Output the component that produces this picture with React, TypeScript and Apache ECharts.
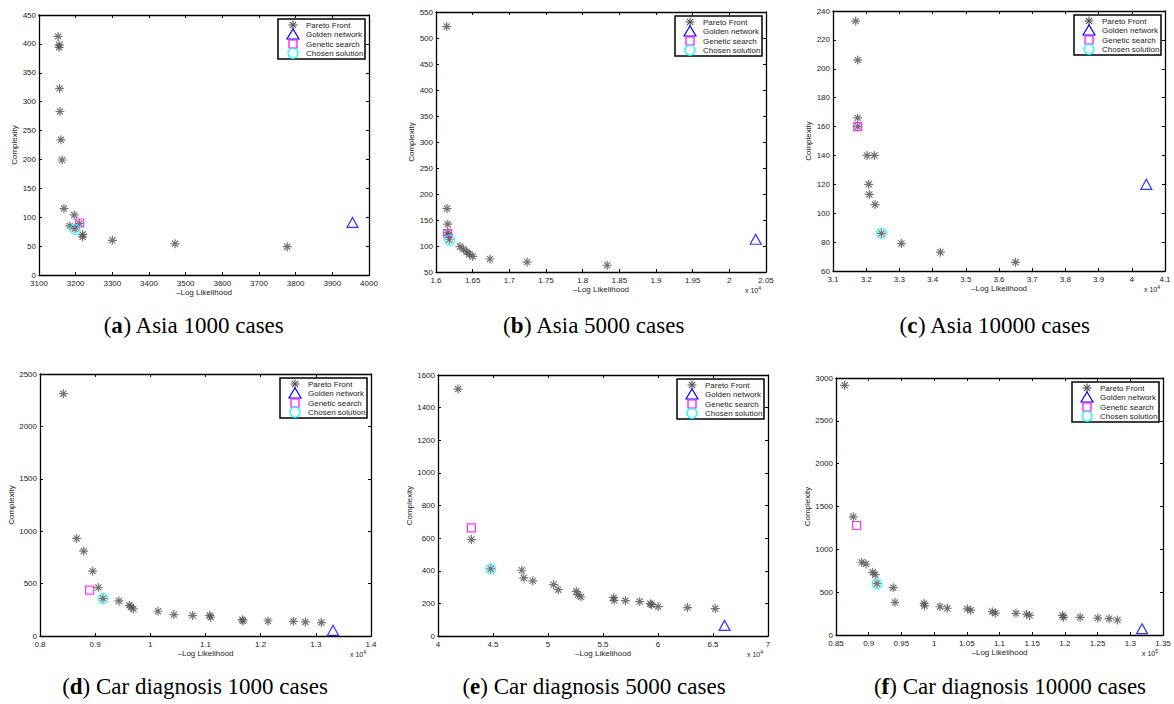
import React, { useEffect, useRef } from "react";
import * as echarts from "echarts";

// ---------- data ----------
const asia1000Pareto = [[3152,413],[3155,398],[3155,394],[3156,323],[3157,283],[3160,234],[3163,199],[3168,115],[3196,104],[3184,85],[3198,80],[3210,89],[3219,70],[3219,66],[3300,60],[3471,54],[3777,49]];
const asia1000Golden = [[3955,91]];
const asia1000Genetic = [[3211,90]];
const asia1000Chosen = [[3198,79]];

const asia5000Pareto = [[16146,522],[16150,172],[16160,142],[16160,125],[16170,121],[16181,112],[16327,99],[16373,94],[16418,89],[16455,84],[16500,80],[16736,75],[17242,69],[18334,63]];
const asia5000Golden = [[20359,113]];
const asia5000Genetic = [[16160,124]];
const asia5000Chosen = [[16186,111]];

const asia10000Pareto = [[31683,233],[31744,206],[31744,166],[31744,160],[32025,140],[32246,140],[32075,120],[32095,113],[32266,106],[32457,86],[33060,79],[34236,73],[36497,66]];
const asia10000Golden = [[40437,120]];
const asia10000Genetic = [[31744,160]];
const asia10000Chosen = [[32457,86]];

const car1000Pareto = [[8423,2312],[8665,931],[8792,810],[8955,619],[9057,462],[9142,357],[9432,335],[9619,293],[9650,277],[9692,258],[10139,236],[10429,204],[10767,195],[11076,195],[11094,179],[11668,156],[11680,143],[12133,143],[12592,140],[12810,134],[13100,128]];
const car1000Golden = [[13311,54]];
const car1000Genetic = [[8900,437]];
const car1000Chosen = [[9142,357]];

const car5000Pareto = [[41820,1514],[43040,591],[44800,411],[47620,403],[47800,356],[48620,338],[50510,315],[50930,284],[52570,274],[52720,254],[53000,239],[55970,235],[56000,219],[57040,217],[58340,211],[59300,198],[59420,192],[60010,180],[62680,174],[65200,168]];
const car5000Golden = [[66050,65]];
const car5000Genetic = [[43040,663]];
const car5000Chosen = [[44800,411]];

const car10000Pareto = [[86320,2915],[87640,1380],[88930,849],[89590,829],[90610,732],[91010,704],[91270,599],[93760,552],[94020,381],[98480,369],[98530,342],[100900,330],[102020,312],[105080,305],[105600,290],[108900,272],[109360,256],[112520,253],[114150,241],[114600,229],[119640,229],[119790,206],[122330,206],[125030,198],[126760,190],[128030,175]];
const car10000Golden = [[131800,74]];
const car10000Genetic = [[88150,1278]];
const car10000Chosen = [[91270,597]];

const seriesNames = ["Pareto Front", "Golden network", "Genetic search", "Chosen solution"];
const captionLetters = ["a", "b", "c", "d", "e", "f"];
const captionTexts = ["Asia 1000 cases", "Asia 5000 cases", "Asia 10000 cases", "Car diagnosis 1000 cases", "Car diagnosis 5000 cases", "Car diagnosis 10000 cases"];
const xAxisName = "\u2013Log Likelihood";
const yAxisName = "Complexity";

const panelData = [
  [asia1000Pareto, asia1000Golden, asia1000Genetic, asia1000Chosen],
  [asia5000Pareto, asia5000Golden, asia5000Genetic, asia5000Chosen],
  [asia10000Pareto, asia10000Golden, asia10000Genetic, asia10000Chosen],
  [car1000Pareto, car1000Golden, car1000Genetic, car1000Chosen],
  [car5000Pareto, car5000Golden, car5000Genetic, car5000Chosen],
  [car10000Pareto, car10000Golden, car10000Genetic, car10000Chosen],
];

// axis ranges
const xRanges = [[3100, 4000, 100], [16000, 20500, 500], [31000, 41000, 1000], [8000, 14000, 1000], [40000, 70000, 5000], [85000, 135000, 5000]];
const yRanges = [[0, 450, 50], [50, 550, 50], [60, 240, 20], [0, 2500, 500], [0, 1600, 200], [0, 3000, 500]];
const xExponents = [0, 4, 4, 4, 4, 5];

// ---------- layout (positions / styles) ----------
const grids = [
  { left: 39, top: 15, width: 330, height: 260 },
  { left: 436, top: 12, width: 330, height: 260 },
  { left: 833, top: 11, width: 332, height: 260 },
  { left: 40, top: 374, width: 331, height: 262 },
  { left: 438, top: 375, width: 330, height: 261 },
  { left: 836, top: 378, width: 327, height: 257 },
];
const yNameGaps = [17, 17, 17, 21, 21, 21];
const captionPos = [[194, 325], [594, 325], [995, 325], [195, 686], [594, 686], [1010, 686]];

const SANS = "'Liberation Sans', Arial, Helvetica, sans-serif";
const SERIF = "'Liberation Serif', 'DejaVu Serif', serif";
const STAR = "path://M5,0L5,10M0,5L10,5M1.6,1.6L8.4,8.4M1.6,8.4L8.4,1.6";
const STAR_COLOR = "#505050";
const COLORS = [STAR_COLOR, "#0000ff", "#ff00ff", "#00ffff"];

const markerStyles = [
  { symbol: STAR, symbolSize: 9, itemStyle: { color: "none", borderColor: COLORS[0], borderWidth: 1.2 } },
  { symbol: "triangle", symbolSize: [11, 10], itemStyle: { color: "none", borderColor: COLORS[1], borderWidth: 1.2 } },
  { symbol: "rect", symbolSize: 8, itemStyle: { color: "none", borderColor: COLORS[2], borderWidth: 1.2 } },
  { symbol: "circle", symbolSize: 10, itemStyle: { color: "none", borderColor: COLORS[3], borderWidth: 1.2 } },
];

function fmt(exp: number) {
  return (v: number) => {
    const s = v / Math.pow(10, exp);
    return String(parseFloat(s.toFixed(4)));
  };
}

// legend box drawn as graphic (MATLAB-style compact legend)
function legendGroup(left: number, top: number) {
  const W = 87, H = 40, cx = 15, tx = 28;
  const rows = [6, 15.5, 25, 34.3];
  const z = 100;
  const children: any[] = [
    { type: "rect", z, shape: { x: 0, y: 0, width: W, height: H }, style: { fill: "#fff", stroke: "#000", lineWidth: 1.5 } },
  ];
  // star
  const r0 = rows[0], s = 4.5, d = 3.2;
  const starLines = [
    [cx - s, r0, cx + s, r0], [cx, r0 - s, cx, r0 + s],
    [cx - d, r0 - d, cx + d, r0 + d], [cx - d, r0 + d, cx + d, r0 - d],
  ];
  starLines.forEach(([x1, y1, x2, y2]) => {
    children.push({ type: "line", z: z + 1, shape: { x1, y1, x2, y2 }, style: { stroke: COLORS[0], lineWidth: 1.1 } });
  });
  const r1 = rows[1];
  children.push({ type: "polygon", z: z + 1, shape: { points: [[cx - 6, r1 + 4.5], [cx + 6, r1 + 4.5], [cx, r1 - 5.5]] }, style: { fill: "none", stroke: COLORS[1], lineWidth: 1.2 } });
  const r2 = rows[2];
  children.push({ type: "rect", z: z + 1, shape: { x: cx - 4, y: r2 - 4, width: 8, height: 8 }, style: { fill: "none", stroke: COLORS[2], lineWidth: 1.2 } });
  const r3 = rows[3];
  children.push({ type: "circle", z: z + 1, shape: { cx, cy: r3, r: 5 }, style: { fill: "none", stroke: COLORS[3], lineWidth: 1.2 } });
  seriesNames.forEach((name, k) => {
    children.push({
      type: "text", z: z + 1, x: tx, y: rows[k],
      style: { text: name, fontSize: 8, fontFamily: SANS, fill: "#222", verticalAlign: "middle", align: "left" },
    });
  });
  return { type: "group", x: left, y: top, children };
}

function buildOption() {
  const grid: any[] = [];
  const xAxis: any[] = [];
  const yAxis: any[] = [];
  const series: any[] = [];
  const graphic: any[] = [];

  grids.forEach((g, i) => {
    grid.push({ ...g, containLabel: false, show: false });
    const [xMin, xMax, xInt] = xRanges[i];
    const [yMin, yMax, yInt] = yRanges[i];
    const axisLine = { show: true, onZero: false, lineStyle: { color: "#000", width: 1.3 } };
    const axisTick = { show: true, inside: true, length: 3, lineStyle: { color: "#000", width: 1 } };
    xAxis.push({
      gridIndex: i, type: "value", position: "bottom", min: xMin, max: xMax, interval: xInt,
      axisLine, axisTick, splitLine: { show: false },
      axisLabel: { fontSize: 8, fontFamily: SANS, color: "#222", margin: 4, formatter: fmt(xExponents[i]), showMinLabel: true, showMaxLabel: true },
      name: xAxisName, nameLocation: "middle", nameGap: 13,
      nameTextStyle: { fontSize: 8, fontFamily: SANS, color: "#222" },
    });
    xAxis.push({
      gridIndex: i, type: "value", position: "top", min: xMin, max: xMax, interval: xInt,
      axisLine, axisTick, splitLine: { show: false }, axisLabel: { show: false },
    });
    yAxis.push({
      gridIndex: i, type: "value", position: "left", min: yMin, max: yMax, interval: yInt,
      axisLine, axisTick, splitLine: { show: false },
      axisLabel: { fontSize: 8, fontFamily: SANS, color: "#222", margin: 3, formatter: (v: number) => String(v), showMinLabel: true, showMaxLabel: true },
      name: yAxisName, nameLocation: "middle", nameGap: yNameGaps[i], nameRotate: 90,
      nameTextStyle: { fontSize: 8, fontFamily: SANS, color: "#222" },
    });
    yAxis.push({
      gridIndex: i, type: "value", position: "right", min: yMin, max: yMax, interval: yInt,
      axisLine, axisTick, splitLine: { show: false }, axisLabel: { show: false },
    });

    panelData[i].forEach((d, k) => {
      series.push({
        type: "scatter", name: seriesNames[k], xAxisIndex: 2 * i, yAxisIndex: 2 * i,
        data: d, ...markerStyles[k], z: 2 + k,
      });
    });

    graphic.push(legendGroup(g.left + g.width - 91, g.top + 4));

    if (xExponents[i] > 0) {
      graphic.push({
        type: "text",
        left: g.left + g.width - 21,
        top: g.top + g.height + 13,
        style: {
          text: "x 10{sup|" + xExponents[i] + "}",
          fontSize: 7, fontFamily: SANS, fill: "#222",
          rich: { sup: { fontSize: 5, fontFamily: SANS, fill: "#222", padding: [0, 0, 5, 0] } },
        },
      });
    }

    graphic.push({
      type: "text",
      x: captionPos[i][0],
      y: captionPos[i][1],
      style: {
        text: "({b|" + captionLetters[i] + "}) " + captionTexts[i],
        fontSize: 23, fontFamily: SERIF, fill: "#000",
        align: "center", verticalAlign: "middle",
        rich: { b: { fontSize: 23, fontFamily: SERIF, fontWeight: "bold", fill: "#000" } },
      },
    });
  });

  return {
    animation: false,
    backgroundColor: "#fff",
    grid, xAxis, yAxis, series, graphic,
  };
}

export default function App() {
  const ref = useRef<HTMLDivElement>(null);
  useEffect(() => {
    if (!ref.current) return;
    const chart = echarts.init(ref.current, undefined, { renderer: "svg" });
    chart.setOption(buildOption() as any);
    return () => chart.dispose();
  }, []);
  return (
    <div
      ref={ref}
      style={{ position: "absolute", left: 0, top: 0, width: 1174, height: 704, background: "#fff" }}
    />
  );
}
